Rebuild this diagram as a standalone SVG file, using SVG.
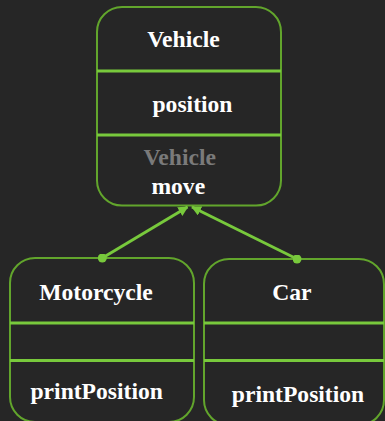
<svg xmlns="http://www.w3.org/2000/svg" width="385" height="421" viewBox="0 0 385 421">
<style>
.box{fill:#262626;stroke:#62a52c;stroke-width:2}
.div{stroke:#78c93c;stroke-width:3}
.t{font-family:"Liberation Serif","Times New Roman",serif;font-weight:bold;font-size:23.6px;fill:#ffffff;text-anchor:middle}
.g{fill:#7a7a7a}
.edge{stroke:#78c93c;stroke-width:3;fill:none}
</style>
<defs>
<marker id="arr" viewBox="0 0 10 10" refX="9" refY="5" markerWidth="10" markerHeight="10" markerUnits="userSpaceOnUse" orient="auto">
<path d="M0,0 L10,5 L0,10 z" fill="#78c93c"/>
</marker>
<marker id="dot" viewBox="0 0 10 10" refX="5" refY="5" markerWidth="9" markerHeight="9" markerUnits="userSpaceOnUse">
<circle cx="5" cy="5" r="5" fill="#78c93c"/>
</marker>
</defs>
<rect width="385" height="421" fill="#262626"/>
<g id="Vehicle">
<rect class="box" x="97" y="7" width="184" height="198.5" rx="25" ry="25"/>
<line class="div" x1="97" y1="71" x2="281" y2="71"/>
<line class="div" x1="97" y1="135" x2="281" y2="135"/>
<text class="t" x="183.5" y="47">Vehicle</text>
<text class="t" x="192.5" y="112">position</text>
<text class="t g" x="179.7" y="165">Vehicle</text>
<text class="t" x="178.3" y="194">move</text>
</g>
<g id="Motorcycle">
<rect class="box" x="10" y="258" width="184" height="164" rx="25" ry="25"/>
<line class="div" x1="10" y1="323" x2="194" y2="323"/>
<line class="div" x1="10" y1="360.5" x2="194" y2="360.5"/>
<text class="t" x="96" y="300">Motorcycle</text>
<text class="t" x="96.7" y="398.5">printPosition</text>
</g>
<g id="Car">
<rect class="box" x="204" y="259" width="180" height="166" rx="25" ry="25"/>
<line class="div" x1="204" y1="323" x2="384" y2="323"/>
<line class="div" x1="204" y1="360.5" x2="384" y2="360.5"/>
<text class="t" x="291.8" y="300">Car</text>
<text class="t" x="298" y="402">printPosition</text>
</g>
<g id="edges">
<path class="edge" d="M102.3,258 L187.5,207" marker-start="url(#dot)" marker-end="url(#arr)"/>
<path class="edge" d="M297,259 L192,207" marker-start="url(#dot)" marker-end="url(#arr)"/>
</g>
</svg>
